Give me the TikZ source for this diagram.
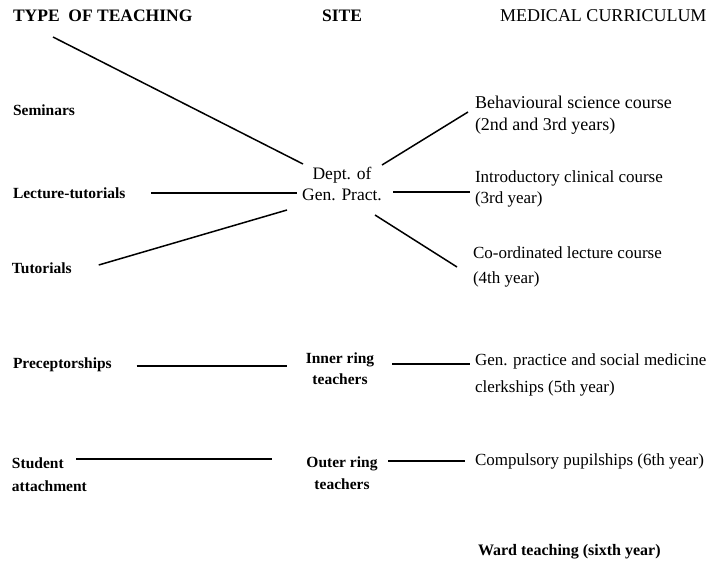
\documentclass[tikz,border=0pt]{standalone}
\usepackage{fontspec}
\setmainfont{Liberation Serif}
\usetikzlibrary{calc}
\begin{document}
\begin{tikzpicture}[x=1pt,y=-1pt,
  every node/.style={inner sep=0pt,outer sep=0pt},
  headb/.style={font=\fontsize{17.5}{21}\selectfont\bfseries},
  headr/.style={font=\fontsize{18}{21}\selectfont},
  boldlbl/.style={font=\fontsize{15.5}{#1}\selectfont\bfseries},
  boldlbl/.default=19,
  reglbl/.style={font=\fontsize{17}{#1}\selectfont},
  reglbl/.default=21,
  conn/.style={line width=1.5pt}]
\useasboundingbox (0,0) rectangle (710,562);
% headings
\node[headb,anchor=west] (type) at (13,16) {TYPE~~OF TEACHING};
\node[headb] (site) at (342,16) {SITE};
\node[headr,anchor=west] (med) at (500,16) {MEDICAL CURRICULUM};
% type of teaching
\node[boldlbl,anchor=west] (sem) at (13,110) {Seminars};
\node[boldlbl,anchor=west] (lt) at (13,193) {Lecture-tutorials};
\node[boldlbl,anchor=west] (tut) at (12,268) {Tutorials};
\node[boldlbl,anchor=west] (pre) at (13,365) {Preceptorships};
\node[boldlbl=23,anchor=west,align=left] (stu) at (12,475) {Student\\attachment};
% site
\node[font=\fontsize{17.5}{21}\selectfont,align=center] (dept) at (342,184) {Dept. of\\Gen. Pract.};
\node[boldlbl=21,align=center] (inner) at (340,369) {Inner ring\\teachers};
\node[boldlbl=22,align=center] (outer) at (342,473.5) {Outer ring\\teachers};
% curriculum
\node[font=\fontsize{18}{22}\selectfont,anchor=west,align=left] (beh) at (475,115.5) {Behavioural science course\\(2nd and 3rd years)};
\node[reglbl=21,anchor=west,align=left] (intro) at (475,189) {Introductory clinical course\\(3rd year)};
\node[reglbl=25,anchor=west,align=left] (coord) at (473,267) {Co-ordinated lecture course\\(4th year)};
\node[reglbl=27,anchor=west,align=left] (gp) at (475,375) {Gen. practice and social medicine\\clerkships (5th year)};
\node[reglbl,anchor=west] (comp) at (475,461) {Compulsory pupilships (6th year)};
\node[font=\fontsize{16}{19}\selectfont\bfseries,anchor=west] (ward) at (478,552) {Ward teaching (sixth year)};
% connectors
\draw[conn] ($(type.west)+(40,21)$) -- ($(dept.center)+(-39,-20)$);
\draw[conn] ($(lt.east)+(26,0)$) -- ($(dept.center)+(-45,9)$);
\draw[conn] ($(tut.east)+(27,-3)$) -- ($(dept.center)+(-55,26)$);
\draw[conn] ($(dept.center)+(40,-19)$) -- ($(beh.west)+(-7,-3.5)$);
\draw[conn] ($(dept.center)+(51,8)$) -- ($(intro.west)+(-5,3)$);
\draw[conn] ($(dept.center)+(33,31)$) -- ($(coord.west)+(-16,0)$);
\draw[conn] ($(pre.east)+(25,1)$) -- ($(inner.center)+(-53,-3)$);
\draw[conn] ($(inner.center)+(52,-5)$) -- ($(gp.west)+(-5,-11)$);
\draw[conn] ($(stu.west)+(64,-16)$) -- ($(outer.center)+(-70,-14.5)$);
\draw[conn] ($(outer.center)+(46,-12.5)$) -- ($(comp.west)+(-10,0)$);
\end{tikzpicture}
\end{document}
